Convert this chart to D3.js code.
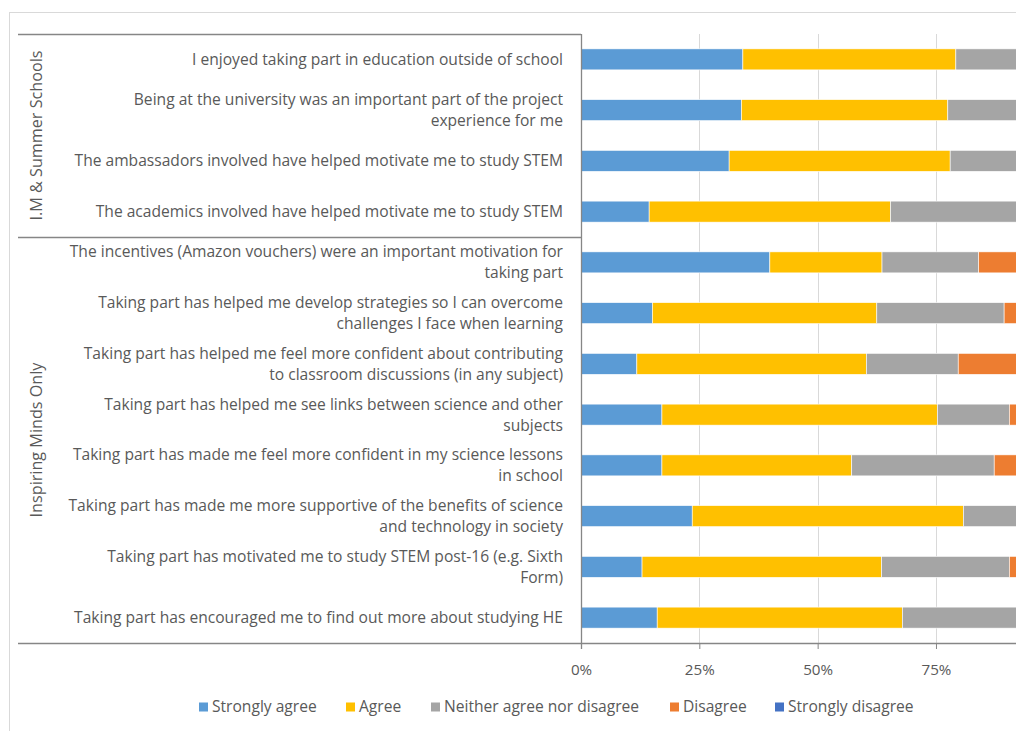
<!DOCTYPE html>
<html>
<head>
<meta charset="utf-8">
<script src="https://cdn.jsdelivr.net/npm/d3@7"></script>
<style>
  html, body { margin: 0; padding: 0; background: #fff; overflow: hidden; }
  svg { display: block; font-family: "Open Sans", sans-serif; }
</style>
</head>
<body>
<div id="chart"></div>
<script>
// --- data ---
const categories = [
  ["I enjoyed taking part in education outside of school"],
  ["Being at the university was an important part of the project", "experience for me"],
  ["The ambassadors involved have helped motivate me to study STEM"],
  ["The academics involved have helped motivate me to study STEM"],
  ["The incentives (Amazon vouchers) were an important motivation for", "taking part"],
  ["Taking part has helped me develop strategies so I can overcome", "challenges I face when learning"],
  ["Taking part has helped me feel more confident about contributing", "to classroom discussions (in any subject)"],
  ["Taking part has helped me see links between science and other", "subjects"],
  ["Taking part has made me feel more confident in my science lessons", "in school"],
  ["Taking part has made me more supportive of the benefits of science", "and technology in society"],
  ["Taking part has motivated me to study STEM post-16 (e.g. Sixth", "Form)"],
  ["Taking part has encouraged me to find out more about studying HE"]
];
const groupNames = ["I.M & Summer Schools", "Inspiring Minds Only"];
const groupSizes = [4, 8];

const seriesNames = ["Strongly agree", "Agree", "Neither agree nor disagree", "Disagree", "Strongly disagree"];
const seriesColors = ["#5B9BD5", "#FFC000", "#A5A5A5", "#ED7D31", "#4472C4"];

const stronglyAgree = [34.2, 33.9, 31.3, 14.4, 39.9, 15.1, 11.8, 17.1, 17.1, 23.5, 12.9, 16.1];
const agree         = [45.0, 43.6, 46.7, 51.0, 23.7, 47.4, 48.5, 58.2, 40.1, 57.3, 50.6, 51.8];
const neither       = [20.8, 22.5, 22.0, 34.6, 20.4, 26.9, 19.4, 15.2, 30.1, 19.2, 27.0, 32.1];
const disagree      = [0, 0, 0, 0, 16.0, 10.6, 20.3, 9.5, 12.7, 0, 9.5, 0];
const stronglyDisagree = [0, 0, 0, 0, 0, 0, 0, 0, 0, 0, 0, 0];

const gridValues = [25, 50, 75, 100];
const tickLabels = [0, 25, 50, 75]; // 100% falls outside the visible area

// --- layout ---
const width = 1016, height = 731;
const plotLeft = 581, plotTop = 34, plotBottom = 643;
const textColor = "#595959";
const fontSize = 15.6;

const rows = categories.map((c, i) => ({
  i,
  values: [stronglyAgree[i], agree[i], neither[i], disagree[i], stronglyDisagree[i]]
}));

const stack = d3.stack()
  .keys(d3.range(seriesNames.length))
  .value((d, k) => d.values[k]);
const stacked = stack(rows);

const x = d3.scaleLinear().domain([0, 100]).range([plotLeft, plotLeft + 473.3]);
const y = d3.scaleBand()
  .domain(d3.range(categories.length))
  .range([plotTop, plotBottom])
  .paddingInner(0.586)
  .paddingOuter(0.293);

const svg = d3.select("#chart").append("svg")
  .attr("width", width)
  .attr("height", height);

// chart frame
svg.append("rect")
  .attr("x", 9.5).attr("y", 12.5)
  .attr("width", 1100).attr("height", 800)
  .attr("fill", "none")
  .attr("stroke", "#D9D9D9");

// gridlines
svg.append("g")
  .selectAll("line")
  .data(gridValues)
  .join("line")
  .attr("x1", d => Math.round(x(d)) + 0.5)
  .attr("x2", d => Math.round(x(d)) + 0.5)
  .attr("y1", plotTop)
  .attr("y2", plotBottom)
  .attr("stroke", "#D9D9D9");

// bars
svg.append("g")
  .selectAll("g")
  .data(stacked)
  .join("g")
  .attr("fill", (d, k) => seriesColors[k])
  .selectAll("rect")
  .data(d => d)
  .join("rect")
  .attr("x", d => x(d[0]))
  .attr("y", d => y(d.data.i))
  .attr("width", d => Math.max(0, x(d[1]) - x(d[0])))
  .attr("height", y.bandwidth())
  .attr("stroke", "#fff")
  .attr("stroke-width", 0.6);

// value axis
const xAxis = svg.append("g")
  .attr("transform", `translate(0,${plotBottom})`)
  .call(d3.axisBottom(x).tickValues(tickLabels).tickFormat(d => d + "%").tickSize(6).tickPadding(15));
xAxis.select(".domain").remove();
xAxis.selectAll(".tick line").attr("stroke", "#868686");
xAxis.selectAll("text")
  .attr("fill", textColor)
  .attr("font-size", 15.2)
  .attr("font-family", "Open Sans, sans-serif");

// axis lines
svg.append("line")
  .attr("x1", 18).attr("x2", width)
  .attr("y1", plotBottom + 0.5).attr("y2", plotBottom + 0.5)
  .attr("stroke", "#868686").attr("stroke-width", 1.3);
svg.append("line")
  .attr("x1", plotLeft + 0.5).attr("x2", plotLeft + 0.5)
  .attr("y1", plotTop).attr("y2", plotBottom + 6)
  .attr("stroke", "#868686").attr("stroke-width", 1.3);

// group separators
const groupEdges = [0];
groupSizes.forEach(s => groupEdges.push(groupEdges[groupEdges.length - 1] + s));
const step = y.step();
const edgeY = k => plotTop + k * step;
svg.append("g")
  .selectAll("line")
  .data(groupEdges.slice(0, -1))
  .join("line")
  .attr("x1", 18).attr("x2", plotLeft)
  .attr("y1", d => Math.round(edgeY(d)) + 0.5)
  .attr("y2", d => Math.round(edgeY(d)) + 0.5)
  .attr("stroke", "#868686").attr("stroke-width", 1.3);

// group labels
svg.append("g")
  .selectAll("text")
  .data(groupNames)
  .join("text")
  .attr("transform", (d, k) => {
    const cy = (edgeY(groupEdges[k]) + edgeY(groupEdges[k + 1])) / 2;
    return `translate(42,${cy}) rotate(-90)`;
  })
  .attr("text-anchor", "middle")
  .attr("fill", textColor)
  .attr("font-size", 16.2)
  .text(d => d);

// category labels
const lineH = 21;
svg.append("g")
  .selectAll("text")
  .data(categories)
  .join("text")
  .attr("text-anchor", "end")
  .attr("fill", textColor)
  .attr("font-size", fontSize)
  .each(function (lines, i) {
    const cy = y(i) + y.bandwidth() / 2;
    const top = cy - (lines.length - 1) * lineH / 2;
    d3.select(this).selectAll("tspan")
      .data(lines)
      .join("tspan")
      .attr("x", plotLeft - 18)
      .attr("y", (d, j) => top + j * lineH)
      .attr("dy", "0.35em")
      .text(d => d);
  });

// legend
const legendX = [199, 346, 431, 670, 775];
const legend = svg.append("g")
  .selectAll("g")
  .data(seriesNames)
  .join("g")
  .attr("transform", (d, k) => `translate(${legendX[k]},707)`);
legend.append("rect")
  .attr("x", 0).attr("y", -4.5)
  .attr("width", 9).attr("height", 9)
  .attr("fill", (d, k) => seriesColors[k]);
legend.append("text")
  .attr("x", 13)
  .attr("dy", "0.35em")
  .attr("fill", textColor)
  .attr("font-size", fontSize)
  .text(d => d);
</script>
</body>
</html>
